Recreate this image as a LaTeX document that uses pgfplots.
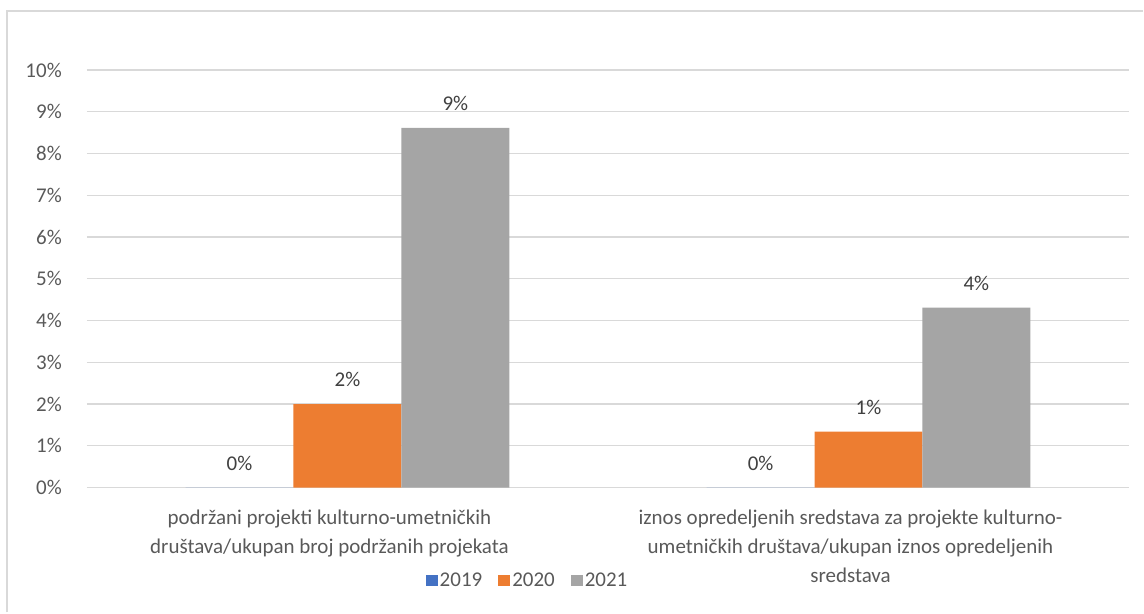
\documentclass[border=0pt]{standalone}
\usepackage{pgfplots}
\pgfplotsset{compat=1.18}
\usepackage{fontspec}
\setmainfont{Carlito}
\definecolor{cBlue}{HTML}{4472C4}
\definecolor{cOrange}{HTML}{ED7D31}
\definecolor{cGray}{HTML}{A5A5A5}
\definecolor{txt}{HTML}{595959}
\definecolor{lbl}{HTML}{404040}
\definecolor{gridc}{HTML}{D9D9D9}
\begin{document}
\begin{tikzpicture}[x=1pt,y=1pt]
\path (0,0) rectangle (1144,613);
\draw[gridc,line width=2pt] (7,0) -- (7,602) -- (1144,602);
\begin{axis}[
  at={(87pt,125pt)}, anchor=south west,
  scale only axis, width=1043pt, height=418pt,
  xmin=-0.5, xmax=1.5, ymin=0, ymax=0.1,
  axis line style={draw=none},
  major tick length=0pt,
  ytick={0,0.01,0.02,0.03,0.04,0.05,0.06,0.07,0.08,0.09,0.1},
  yticklabels={0\%,1\%,2\%,3\%,4\%,5\%,6\%,7\%,8\%,9\%,10\%},
  ymajorgrids, xmajorgrids=false, major grid style={draw=gridc,line width=1.3pt},
  yticklabel style={font=\fontsize{21}{25}\selectfont, text=txt, anchor=east, inner sep=0pt, xshift=-25pt},
  xtick={0,1},
  xticklabels={{podržani projekti kulturno-umetničkih\\društava/ukupan broj podržanih projekata},{iznos opredeljenih sredstava za projekte kulturno-\\umetničkih društava/ukupan iznos opredeljenih\\sredstava}},
  xticklabel style={font=\fontsize{21}{29}\selectfont, text=txt, align=center, anchor=north, inner sep=0pt, yshift=-22pt, xshift=-18pt},
  ybar, bar width=108pt,
  nodes near coords,
  point meta=explicit symbolic,
  every node near coord/.append style={font=\fontsize{21}{25}\selectfont, text=lbl, anchor=south, inner sep=0pt, yshift=17pt},
  legend style={at={(0.4228,-0.2225)}, anchor=center, draw=none, legend columns=3,
    font=\fontsize{21}{25}\selectfont, text=txt,
    /tikz/every even column/.append style={column sep=14pt}},
  legend image code/.code={\fill[#1] (0pt,-6pt) rectangle (12pt,6pt);},
]
\addplot[fill=cBlue, draw=none, bar shift=-108pt] coordinates {(0,0) [0\%] (1,0) [0\%]};
\addplot[fill=cOrange, draw=none, bar shift=0pt] coordinates {(0,0.0200) [2\%] (1,0.0134) [1\%]};
\addplot[fill=cGray, draw=none, bar shift=108pt] coordinates {(0,0.0861) [9\%] (1,0.0431) [4\%]};
\legend{2019,2020,2021}
\end{axis}
\end{tikzpicture}
\end{document}
